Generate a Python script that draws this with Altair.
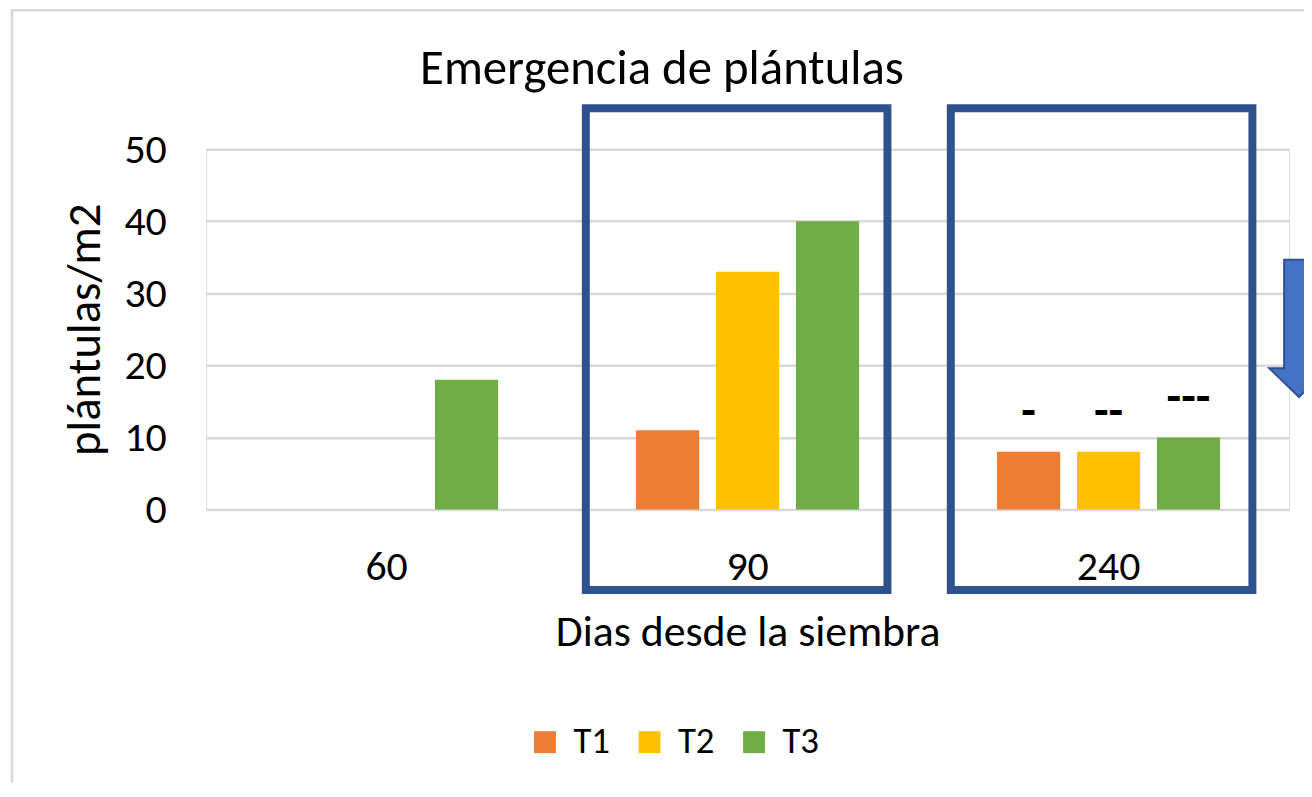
import altair as alt
import pandas as pd

# ---- data ----
dias = ["60", "90", "240"]
series = ["T1", "T2", "T3"]
t1 = [0, 11, 8]
t2 = [0, 33, 8]
t3 = [18, 40, 10]
dash_labels = ["-", "--", "---"]          # annotations above the 240-day bars
boxed_days = ["90", "240"]                # groups highlighted with blue boxes
colors = ["#ED7D31", "#FFC000", "#70AD47"]
title_text = "Emergencia de plántulas"

rows = []
for i, d in enumerate(dias):
    for s, vals in zip(series, [t1, t2, t3]):
        rows.append({"dias": d, "serie": s, "valor": vals[i]})
df = pd.DataFrame(rows)

ann = pd.DataFrame({"dias": ["240"] * 3, "serie": series,
                    "valor": [t1[2], t2[2], t3[2]], "txt": dash_labels})
boxes = pd.DataFrame({"dias": boxed_days})
one = pd.DataFrame({"t": [title_text]})

FONT = "Carlito, Calibri, Lato, sans-serif"
W, H = 1088, 362

xenc = alt.X("dias:N", sort=dias,
             scale=alt.Scale(paddingInner=0.382, paddingOuter=0.191),
             axis=alt.Axis(title="Dias desde la siembra", labelAngle=0,
                           labelFontSize=42, titleFontSize=44, labelPadding=37,
                           titlePadding=24, ticks=False, tickSize=0, domain=False,
                           grid=False, labelColor="#000000", titleColor="#000000",
                           titleFontWeight="normal"))
xoff = alt.XOffset("serie:N", sort=series,
                   scale=alt.Scale(paddingInner=0.21, paddingOuter=0))
yenc = alt.Y("valor:Q", scale=alt.Scale(domain=[0, 50], nice=False),
             axis=alt.Axis(title="plántulas/m2", values=[0, 10, 20, 30, 40, 50],
                           labelFontSize=42, titleFontSize=47, labelPadding=40,
                           titlePadding=14, ticks=False, tickSize=0, domain=False,
                           grid=True, gridColor="#D9D9D9", gridWidth=2.5,
                           labelColor="#000000", titleColor="#000000",
                           titleFontWeight="normal"))

bars = alt.Chart(df).mark_bar().encode(
    x=xenc, xOffset=xoff, y=yenc,
    color=alt.Color("serie:N", sort=series,
                    scale=alt.Scale(domain=series, range=colors),
                    legend=alt.Legend(title=None, orient="none", direction="horizontal",
                                      legendX=322, legendY=577, symbolType="square",
                                      symbolSize=484, symbolStrokeWidth=0,
                                      labelFontSize=37, labelOffset=10,
                                      columnPadding=21, labelColor="#000000")),
)

dashes = alt.Chart(ann).mark_text(baseline="middle", align="center", dy=-40,
                                  fontSize=48, fontWeight="bold", color="#000000").encode(
    x=alt.X("dias:N", sort=dias), xOffset=alt.XOffset("serie:N", sort=series),
    y=alt.Y("valor:Q"), text="txt:N")

box = alt.Chart(boxes).mark_bar(fillOpacity=0, stroke="#2F528F", strokeWidth=8,
                                width=303,
                                xOffset=alt.expr("datum.dias == '90' ? -11 : -7"),
                                clip=False).encode(
    x=alt.X("dias:N", sort=dias), y=alt.value(-41), y2=alt.value(443))

arrow_path = ("M -0.217 -1 L 0.217 -1 L 0.217 0.58 L 0.435 0.58 L 0 1 "
              "L -0.435 0.58 L -0.217 0.58 Z")
arrow = alt.Chart(one).mark_point(shape=arrow_path, size=19044, filled=True,
                                  fill="#4472C4", stroke="#2F528F", strokeWidth=2,
                                  opacity=1).encode(
    x=alt.value(1098), y=alt.value(180))

frame = alt.Chart(one).mark_rect(fillOpacity=0, stroke="#D9D9D9", strokeWidth=2.5).encode(
    x=alt.value(-195), x2=alt.value(1300), y=alt.value(-139.5), y2=alt.value(800))

title = alt.Chart(one).mark_text(fontSize=49, font=FONT, color="#000000",
                                 align="center", baseline="alphabetic").encode(
    x=alt.value(458), y=alt.value(-65), text="t:N")

chart = alt.layer(frame, bars, dashes, box, arrow, title).properties(
    width=W, height=H,
    autosize=alt.AutoSizeParams(type="none"),
    padding={"left": 199, "top": 140, "right": 15, "bottom": 273},
).configure_view(stroke=None).configure(font=FONT).configure_axis(
    labelFont=FONT, titleFont=FONT).configure_legend(labelFont=FONT)

chart.save("out.html", embed_options={"renderer": "svg", "actions": False})
